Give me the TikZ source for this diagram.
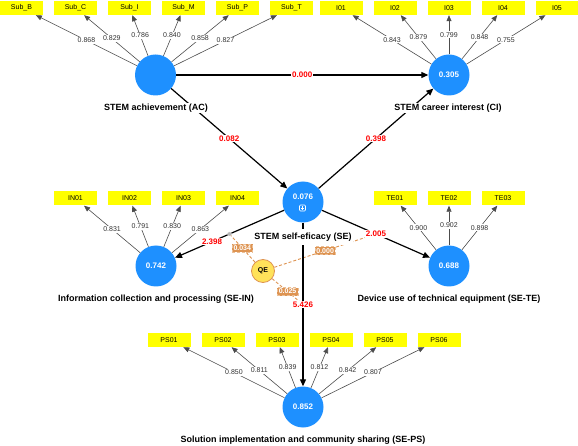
\documentclass[tikz,border=0pt]{standalone}
\usepackage{fontspec}
\setmainfont{Liberation Sans}
\usetikzlibrary{arrows.meta,calc}
\definecolor{lvblue}{RGB}{30,144,255}
\definecolor{indyellow}{RGB}{255,255,0}
\definecolor{modorange}{RGB}{222,148,82}
\definecolor{modfill}{RGB}{255,226,90}
\begin{document}
\begin{tikzpicture}[x=1pt,y=-1pt,
  lv/.style={circle,fill=lvblue,minimum size=41pt,inner sep=0pt,text=white,font=\fontsize{8}{9}\selectfont\bfseries},
  ind/.style={fill=indyellow,minimum width=43pt,minimum height=14pt,inner sep=0pt,font=\fontsize{7}{8}\selectfont},
  title/.style={fill=white,inner sep=1pt,font=\fontsize{9}{10}\selectfont\bfseries},
  load/.style={draw=black!70,line width=0.6pt,-{Triangle[length=6pt,width=5pt]}},
  loadlab/.style={fill=white,inner sep=1pt,text=black!80,font=\fontsize{7}{8}\selectfont},
  struct/.style={draw=black,line width=1.2pt,-{Triangle[length=7pt,width=6pt]}},
  pathlab/.style={fill=white,inner sep=1pt,text=red,font=\fontsize{8}{9}\selectfont\bfseries},
  moddash/.style={draw=modorange,line width=0.9pt,dash pattern=on 3pt off 2pt},
  modlab/.style={fill=modorange,draw=modorange!60!white,line width=0.4pt,inner xsep=1.5pt,inner ysep=1.5pt,text=white,font=\fontsize{7}{8}\selectfont\bfseries},
]
\useasboundingbox (0,0) rectangle (578,446);

% latent variables
\node[lv] (AC) at (155.5,75) {};
\node[lv] (CI) at (449,75) {0.305};
\node[lv] (SE) at (303,202) {};
\node[lv] (IN) at (156,266) {0.742};
\node[lv] (TE) at (449,266) {0.688};
\node[lv] (PS) at (303,407) {0.852};
\node[circle,fill=modfill,draw=modorange,line width=0.8pt,minimum size=23pt,inner sep=0pt,font=\fontsize{7}{8}\selectfont\bfseries] (QE) at (263,271) {QE};

\node[text=white,font=\fontsize{8}{9}\selectfont\bfseries] (SEval) at (303,197) {0.076};
\draw[white,line width=0.6pt,rounded corners=1pt] (299.5,205) rectangle (305.5,211);
\draw[white,line width=0.6pt] (302.5,206.2) -- (302.5,209.8) (300.7,208) -- (304.3,208);

% indicators
\foreach \nm/\t/\x/\v in {SubB/Sub\_B/21.5/0.868,SubC/Sub\_C/75.5/0.829,SubI/Sub\_I/129.5/0.786,SubM/Sub\_M/183.5/0.840,SubP/Sub\_P/237.5/0.858,SubT/Sub\_T/291.5/0.827}{
  \node[ind] (\nm) at (\x,8) {\t};
  \draw[load] (AC) -- (\nm) node[midway,loadlab]{\v};
}
\foreach \nm/\x/\v in {I01/341/0.843,I02/395/0.879,I03/449/0.799,I04/503/0.848,I05/557/0.755}{
  \node[ind] (\nm) at (\x,8) {\nm};
  \draw[load] (CI) -- (\nm) node[midway,loadlab]{\v};
}
\foreach \nm/\x/\v in {IN01/75.5/0.831,IN02/129.5/0.791,IN03/183.5/0.830,IN04/237.5/0.863}{
  \node[ind] (\nm) at (\x,198.5) {\nm};
  \draw[load] (IN) -- (\nm) node[midway,loadlab]{\v};
}
\foreach \nm/\x/\v in {TE01/395/0.900,TE02/449/0.902,TE03/503/0.898}{
  \node[ind] (\nm) at (\x,198.5) {\nm};
  \draw[load] (TE) -- (\nm) node[midway,loadlab]{\v};
}
\foreach \nm/\x/\v in {PS01/169/0.850,PS02/223/0.811,PS03/277/0.839,PS04/331/0.812,PS05/385/0.842,PS06/439/0.807}{
  \node[ind] (\nm) at (\x,340) {\nm};
  \draw[load] (PS) -- (\nm) node[midway,loadlab]{\v};
}

% midpoints for moderation
\path (SE) -- (IN) coordinate[midway] (mIN);
\path (SE) -- (TE) coordinate[midway] (mTE);
\path (SE) -- (PS) coordinate[midway] (mPS);

\draw[moddash] (QE) -- (mIN) node[midway,modlab]{0.034};
\draw[moddash] (QE) -- (mTE) node[midway,modlab]{0.000};
\draw[moddash] (QE) -- (mPS) node[midway,modlab]{0.025};

% structural paths
\draw[struct] (AC) -- (CI) node[midway,pathlab]{0.000};
\draw[struct] (AC) -- (SE) node[midway,pathlab]{0.082};
\draw[struct] (SE) -- (CI) node[midway,pathlab]{0.398};
\draw[struct] (SE) -- (IN) node[pos=0.66,pathlab]{2.398};
\draw[struct] (SE) -- (TE) node[midway,pathlab]{2.005};
\draw[struct] (SE) -- (PS) node[midway,pathlab]{5.426};
\node[circle,fill=black!30,draw=black!15,inner sep=0pt,minimum size=4pt] (dotIN) at (mIN) {};

% titles
\node[title] (ACt) at (156,108) {STEM achievement (AC)};
\node[title] (CIt) at (448,108) {STEM career interest (CI)};
\node[title,inner ysep=4pt] (SEt) at (303,237) {STEM self-eficacy (SE)};
\node[title] (INt) at (156,299) {Information collection and processing (SE-IN)};
\node[title] (TEt) at (449,299) {Device use of technical equipment (SE-TE)};
\node[title] (PSt) at (303,440) {Solution implementation and community sharing (SE-PS)};
\end{tikzpicture}
\end{document}
